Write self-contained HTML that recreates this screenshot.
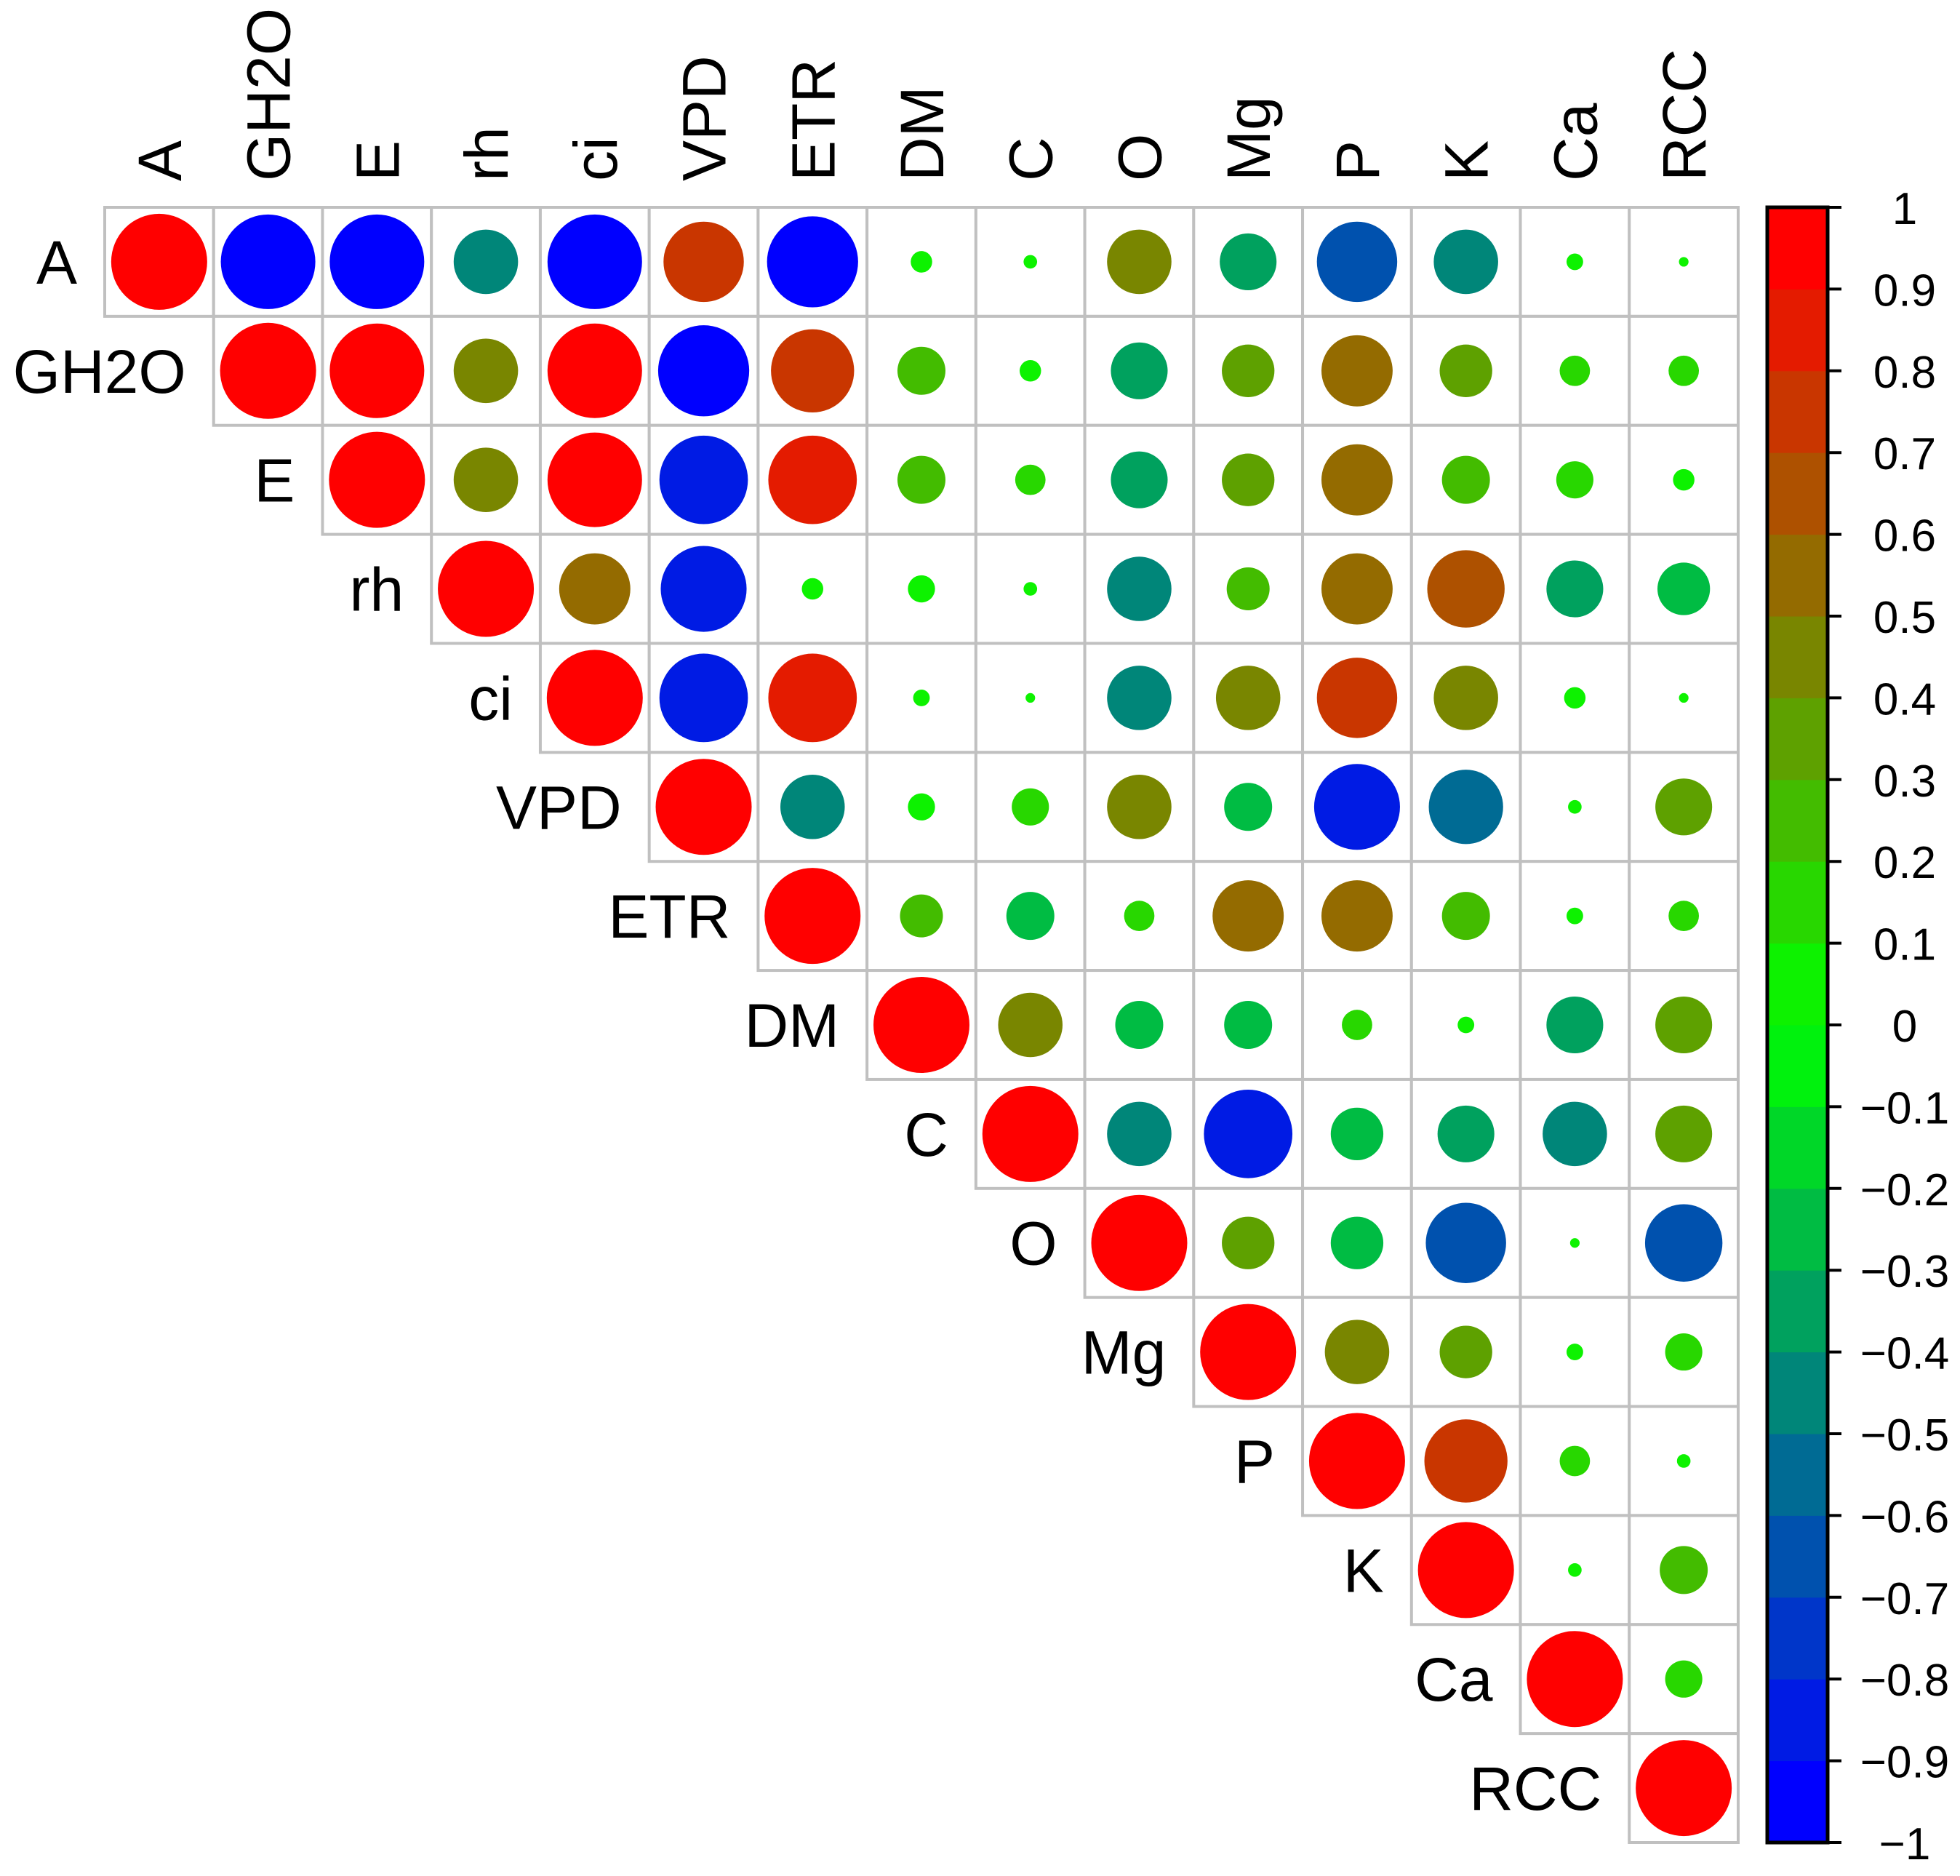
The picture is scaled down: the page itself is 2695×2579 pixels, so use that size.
<!DOCTYPE html>
<html><head><meta charset="utf-8"><style>
html,body{margin:0;padding:0;background:#fff;}
svg{display:block;}
text{font-family:"Liberation Sans",Arial,sans-serif;fill:#000;}
</style></head>
<body>
<svg id="chart" width="2695" height="2579" viewBox="0 0 2695 2579" xmlns="http://www.w3.org/2000/svg">
<g id="cells"></g>
<g id="labels"></g>
<g id="legend"></g>
</svg>
<script>
const variables = ["A","GH2O","E","rh","ci","VPD","ETR","DM","C","O","Mg","P","K","Ca","RCC"];
// upper triangle rows (starting at diagonal)
const rowA    = [1,-0.97,-0.97,-0.45,-0.97,0.7,-0.9,0.05,0.02,0.45,-0.35,-0.7,-0.45,0.03,0.01];
const rowGH2O = [1,0.97,0.45,0.97,-0.9,0.75,0.25,0.05,-0.35,0.3,0.55,0.3,0.1,0.1];
const rowE    = [1,0.45,0.97,-0.85,0.85,0.25,0.1,-0.35,0.3,0.55,0.25,0.15,0.05];
const rowRh   = [1,0.55,-0.8,0.05,0.08,0.02,-0.45,0.2,0.55,0.65,-0.35,-0.3];
const rowCi   = [1,-0.85,0.85,0.03,0.01,-0.45,0.45,0.7,0.45,0.05,0.01];
const rowVPD  = [1,-0.45,0.08,0.15,0.45,-0.25,-0.8,-0.6,0.02,0.35];
const rowETR  = [1,0.2,-0.25,0.1,0.55,0.55,0.25,0.03,0.1];
const rowDM   = [1,0.45,-0.25,-0.25,0.1,0.03,-0.35,0.35];
const rowC    = [1,-0.45,-0.85,-0.3,-0.35,-0.45,0.35];
const rowO    = [1,0.3,-0.3,-0.7,0.01,-0.65];
const rowMg   = [1,0.45,0.3,0.03,0.15];
const rowP    = [1,0.75,0.1,0.02];
const rowK    = [1,0.02,0.25];
const rowCa   = [1,0.15];
const rowRCC  = [1];
const rows = [rowA,rowGH2O,rowE,rowRh,rowCi,rowVPD,rowETR,rowDM,rowC,rowO,rowMg,rowP,rowK,rowCa,rowRCC];
const legendTicks = [1,0.9,0.8,0.7,0.6,0.5,0.4,0.3,0.2,0.1,0,-0.1,-0.2,-0.3,-0.4,-0.5,-0.6,-0.7,-0.8,-0.9,-1];
const legendTickLabels = ["1","0.9","0.8","0.7","0.6","0.5","0.4","0.3","0.2","0.1","0","\u22120.1","\u22120.2","\u22120.3","\u22120.4","\u22120.5","\u22120.6","\u22120.7","\u22120.8","\u22120.9","\u22121"];

const NS="http://www.w3.org/2000/svg";
const gx0=144, gy0=285, gx1=2390, gy1=2533;
const n=variables.length;
const cw=(gx1-gx0)/n, ch=(gy1-gy0)/n;
function xPos(j){return gx0+j*cw;}
function yPos(i){return gy0+i*ch;}
function colorFor(v){
  let b=Math.floor((v+1)*10); if(b>19)b=19; if(b<0)b=0;
  const p=b/19; let r,g,bl;
  if(p<=0.5){const f=p*2; r=0; g=255*f; bl=255*(1-f);}
  else {const f=(p-0.5)*2; r=255*f; g=255*(1-f); bl=0;}
  return `rgb(${Math.round(r)},${Math.round(g)},${Math.round(bl)})`;
}
function mk(tag,attrs){const e=document.createElementNS(NS,tag);for(const k in attrs)e.setAttribute(k,attrs[k]);return e;}
const cells=document.getElementById('cells');
const labels=document.getElementById('labels');
const legend=document.getElementById('legend');
const maxR=66;
rows.forEach((row,i)=>{
  row.forEach((v,k)=>{
    const j=i+k;
    const rect=mk('rect',{x:xPos(j),y:yPos(i),width:cw,height:ch,fill:'#fff',stroke:'#c0c0c0','stroke-width':4});
    
    
    cells.appendChild(rect);
  });
});
rows.forEach((row,i)=>{
  row.forEach((v,k)=>{
    const j=i+k;
    let r=maxR*Math.sqrt(Math.abs(v));
    if(r<4)r=4;
    const c=mk('circle',{cx:xPos(j)+cw/2,cy:yPos(i)+ch/2,r:r,fill:colorFor(v)});
    
    
    cells.appendChild(c);
  });
});
variables.forEach((name,i)=>{
  const t=mk('text',{x:xPos(i)-38,y:yPos(i)+ch/2+30,'font-size':84,'text-anchor':'end'});
  t.textContent=name;
  
  
  labels.appendChild(t);
  const cx=xPos(i)+cw/2+30, cy=gy0-36;
  const c=mk('text',{x:cx,y:cy,'font-size':84,'text-anchor':'start',transform:`rotate(-90 ${cx} ${cy})`});
  c.textContent=name;
  
  
  labels.appendChild(c);
});
const lx0=2430, lx1=2513, ly0=285, ly1=2533;
function ly(v){return ly1-(v+1)/2*(ly1-ly0);}
for(let b=0;b<20;b++){
  const v0=-1+b*0.1;
  const r=mk('rect',{x:lx0,y:ly(v0+0.1),width:lx1-lx0,height:ly(v0)-ly(v0+0.1)+0.5,fill:colorFor(v0+0.05)});
  
  
  legend.appendChild(r);
}
const frame=mk('rect',{x:lx0,y:ly0,width:lx1-lx0,height:ly1-ly0,fill:'none',stroke:'#000','stroke-width':5});


legend.appendChild(frame);
legendTicks.forEach((v,i)=>{
  const l=mk('line',{x1:lx1,x2:2532,y1:ly(v),y2:ly(v),stroke:'#000','stroke-width':4});
  
  
  legend.appendChild(l);
  const t=mk('text',{x:2619,y:ly(v)+23,'font-size':62,'text-anchor':'middle'});
  t.textContent=legendTickLabels[i];
  
  
  legend.appendChild(t);
});
</script>
</body></html>
